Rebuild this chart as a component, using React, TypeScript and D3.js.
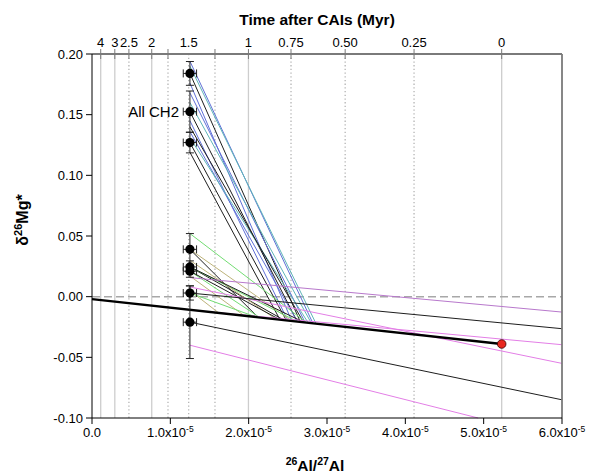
import React from 'react';
import * as d3 from 'd3';

// ---------- axis data ----------
const xTickValues = [0, 1e-5, 2e-5, 3e-5, 4e-5, 5e-5, 6e-5];
const xTickMantissas = ['0.0', '1.0x10', '2.0x10', '3.0x10', '4.0x10', '5.0x10', '6.0x10'];
const yTickValues = [0.2, 0.15, 0.1, 0.05, 0, -0.05, -0.1];
const yTickLabels = ['0.20', '0.15', '0.10', '0.05', '0.00', '-0.05', '-0.10'];

// top (time) axis
const initialRatio = 5.23e-5; // 26Al/27Al at t = 0
const halfLifeMyr = 0.72;
const timeTickValues = [4, 3, 2.5, 2, 1.75, 1.25, 1, 0.75, 0.5, 0.25, 0];
const timeLabelValues = [4, 3, 2.5, 2, 1.5, 1, 0.75, 0.5, 0.25, 0];
const timeLabelTexts = ['4', '3', '2.5', '2', '1.5', '1', '0.75', '0.50', '0.25', '0'];
const timeGridSolid = [4, 3, 2, 1, 0];
const timeGridDotted = [2.5, 1.75, 1.5, 1.25, 0.75, 0.5, 0.25];

// ---------- CH2 data points ----------
const ch2X = [1.25e-5, 1.25e-5, 1.25e-5, 1.25e-5, 1.25e-5, 1.25e-5, 1.25e-5, 1.25e-5];
const ch2Y = [0.184, 0.1525, 0.127, 0.039, 0.0245, 0.021, 0.003, -0.021];
const ch2YErr = [0.0098, 0.017, 0.0085, 0.013, 0.005, 0.005, 0.0058, 0.030];
const ch2XErr = [0.085e-5, 0.085e-5, 0.085e-5, 0.085e-5, 0.085e-5, 0.085e-5, 0.085e-5, 0.085e-5];

// ---------- bulk reference line & point ----------
const bulkLineX = [0, 5.23e-5];
const bulkLineY = [-0.002, -0.039];
const refPointX = [5.23e-5];
const refPointY = [-0.039];

// ---------- model lines (x in 26Al/27Al, y in d26Mg*) ----------
const modelX0 = [
  1.25e-5, 1.25e-5, 1.25e-5, 1.25e-5, 1.25e-5, 1.25e-5, 1.25e-5, 1.25e-5, 1.25e-5, 1.25e-5, 1.25e-5, 1.25e-5, 1.25e-5,
  1.25e-5, 1.25e-5, 1.25e-5, 1.25e-5, 1.25e-5, 1.25e-5, 1.25e-5, 1.25e-5, 1.25e-5, 1.25e-5, 1.25e-5, 1.25e-5,
  1.25e-5, 1.25e-5, 1.25e-5, 1.25e-5, 1.25e-5, 1.25e-5,
];
const modelY0 = [
  0.194, 0.19, 0.184, 0.176, 0.168, 0.1525, 0.16, 0.145, 0.127, 0.136, 0.119, 0.131, 0.14,
  0.052, 0.039, 0.039, 0.0245, 0.0245, 0.03, 0.021, 0.021, 0.017, 0.005, 0.003, 0.0245,
  0.0157, 0.008, -0.011, 0.003, -0.021, -0.04,
];
const modelX1 = [
  2.82e-5, 2.86e-5, 2.66e-5, 2.55e-5, 2.72e-5, 2.62e-5, 2.8e-5, 2.5e-5, 2.48e-5, 2.62e-5, 2.4e-5, 2.76e-5, 2.7e-5,
  2.74e-5, 2.55e-5, 2.12e-5, 2.45e-5, 2.62e-5, 2.35e-5, 2.14e-5, 2.4e-5, 1.95e-5, 1.62e-5, 2.1e-5, 2.7e-5,
  6.0e-5, 6.0e-5, 6.0e-5, 6.0e-5, 6.0e-5, 4.93e-5,
];
const modelY1 = [
  -0.0219, -0.0222, -0.0208, -0.02, -0.0212, -0.0205, -0.0218, -0.0197, -0.0195, -0.0205, -0.019, -0.0215, -0.021,
  -0.0214, -0.02, -0.017, -0.0193, -0.0205, -0.0186, -0.0171, -0.019, -0.016, -0.0135, -0.0169, -0.021,
  -0.0127, -0.055, -0.0396, -0.0264, -0.085, -0.1,
];
const modelKind = [
  'blue', 'teal', 'black', 'blue', 'blue', 'black', 'teal', 'blue', 'black', 'blue', 'black', 'teal', 'black',
  'green', 'olive', 'black', 'black', 'green', 'olive', 'green', 'black', 'olive', 'olive', 'green', 'black',
  'purple', 'magenta', 'magenta', 'black', 'black', 'magenta',
];

const kindColor: Record<string, string> = {
  blue: '#5f6fd6',
  teal: '#5fb5b8',
  black: '#1e1e1e',
  green: '#72dc72',
  olive: '#bdb37a',
  magenta: '#e37ee6',
  purple: '#b878cc',
};

const W = 593;
const H = 475;
const left = 92;
const right = 562;
const top = 54;
const bottom = 418;
const FONT = '"Liberation Sans", Arial, Helvetica, sans-serif';

export default function App() {
  const x = d3.scaleLinear().domain([0, 6e-5]).range([left, right]);
  const y = d3.scaleLinear().domain([-0.1, 0.2]).range([bottom, top]);
  const timeToRatio = (t: number) => initialRatio * Math.pow(2, -t / halfLifeMyr);
  const tx = (t: number) => x(timeToRatio(t));

  const bulkPath = d3.line<number>()
    .x((_, i) => x(bulkLineX[i]))
    .y((_, i) => y(bulkLineY[i]))(bulkLineX) as string;

  return (
    <svg width={W} height={H} style={{ position: 'absolute', left: 0, top: 0, background: '#fff' }} fontFamily={FONT}>
      {/* grid lines */}
      {timeGridSolid.map((t, i) => (
        <line key={'gs' + i} x1={tx(t)} x2={tx(t)} y1={top} y2={bottom} stroke="#cdcdcd" strokeWidth={1.3} />
      ))}
      {timeGridDotted.map((t, i) => (
        <line key={'gd' + i} x1={tx(t)} x2={tx(t)} y1={top} y2={bottom} stroke="#b4b4b4" strokeWidth={1.3} strokeDasharray="1.3,2.4" />
      ))}
      {/* zero line */}
      <line x1={x(0)} x2={x(6e-5)} y1={y(0)} y2={y(0)} stroke="#a8a8a8" strokeWidth={1.5} strokeDasharray="8,4" />

      {/* model lines */}
      {modelX0.map((_, i) => (
        <line key={'m' + i} x1={x(modelX0[i])} y1={y(modelY0[i])} x2={x(modelX1[i])} y2={y(modelY1[i])}
          stroke={kindColor[modelKind[i]]} strokeWidth={1} />
      ))}

      {/* bulk line */}
      <path d={bulkPath} stroke="#000" strokeWidth={2.4} fill="none" />

      {/* error bars */}
      {ch2X.map((cx, i) => {
        const px = x(cx);
        const py = y(ch2Y[i]);
        const y1 = y(ch2Y[i] + ch2YErr[i]);
        const y2 = y(ch2Y[i] - ch2YErr[i]);
        const x1 = x(cx - ch2XErr[i]);
        const x2 = x(cx + ch2XErr[i]);
        return (
          <g key={'e' + i} stroke="#222" strokeWidth={1}>
            <line x1={px} x2={px} y1={y1} y2={y2} />
            <line x1={px - 4} x2={px + 4} y1={y1} y2={y1} />
            <line x1={px - 4} x2={px + 4} y1={y2} y2={y2} />
            <line x1={x1} x2={x2} y1={py} y2={py} />
            <line x1={x1} x2={x1} y1={py - 4} y2={py + 4} />
            <line x1={x2} x2={x2} y1={py - 4} y2={py + 4} />
          </g>
        );
      })}
      {ch2X.map((cx, i) => (
        <circle key={'p' + i} cx={x(cx)} cy={y(ch2Y[i])} r={4.6} fill="#000" />
      ))}
      {refPointX.map((rx, i) => (
        <circle key={'r' + i} cx={x(rx)} cy={y(refPointY[i])} r={4.3} fill="#e8281e" stroke="#3a0000" strokeWidth={0.8} />
      ))}

      <text x={179} y={117} fontSize={15} textAnchor="end" fill="#000">All CH2</text>

      {/* frame */}
      <line x1={left} x2={right} y1={top} y2={top} stroke="#7a7a7a" strokeWidth={1.8} />
      <line x1={right} x2={right} y1={top} y2={bottom} stroke="#7a7a7a" strokeWidth={1.8} />
      <line x1={left} x2={left} y1={top} y2={bottom} stroke="#000" strokeWidth={1} />
      <line x1={left} x2={right} y1={bottom} y2={bottom} stroke="#000" strokeWidth={1} />

      {/* left axis */}
      {yTickValues.map((v, i) => (
        <g key={'yt' + i}>
          <line x1={left - 6} x2={left} y1={y(v)} y2={y(v)} stroke="#000" strokeWidth={1} />
          <text x={left - 9} y={y(v) + 4.5} fontSize={13} textAnchor="end" fill="#000">{yTickLabels[i]}</text>
        </g>
      ))}

      {/* bottom axis */}
      {xTickValues.map((v, i) => (
        <g key={'xt' + i}>
          <line x1={x(v)} x2={x(v)} y1={bottom} y2={bottom + 6} stroke="#000" strokeWidth={1} />
          <text x={x(v)} y={437} fontSize={13} textAnchor="middle" fill="#000">
            {xTickMantissas[i]}
            {i > 0 ? <tspan fontSize={8.5} dy={-5}>-5</tspan> : null}
          </text>
        </g>
      ))}

      {/* top axis */}
      {timeTickValues.map((t, i) => (
        <line key={'tt' + i} x1={tx(t)} x2={tx(t)} y1={top - 5} y2={top + 5} stroke="#7a7a7a" strokeWidth={1} />
      ))}
      {timeLabelValues.map((t, i) => (
        <text key={'tl' + i} x={tx(t)} y={47} fontSize={13} textAnchor="middle" fill="#000">{timeLabelTexts[i]}</text>
      ))}

      {/* titles */}
      <text x={317} y={25} fontSize={15.5} fontWeight="bold" textAnchor="middle" fill="#000">Time after CAIs (Myr)</text>
      <text x={315} y={471} fontSize={15.5} fontWeight="bold" textAnchor="middle" fill="#000">
        <tspan fontSize={10.5} dy={-6}>26</tspan>
        <tspan dy={6}>Al/</tspan>
        <tspan fontSize={10.5} dy={-6}>27</tspan>
        <tspan dy={6}>Al</tspan>
      </text>
      <text transform="translate(28,220) rotate(-90)" fontSize={16} fontWeight="bold" textAnchor="middle" fill="#000">
        δ<tspan fontSize={11} dy={-6}>26</tspan><tspan dy={6}>Mg*</tspan>
      </text>
    </svg>
  );
}
